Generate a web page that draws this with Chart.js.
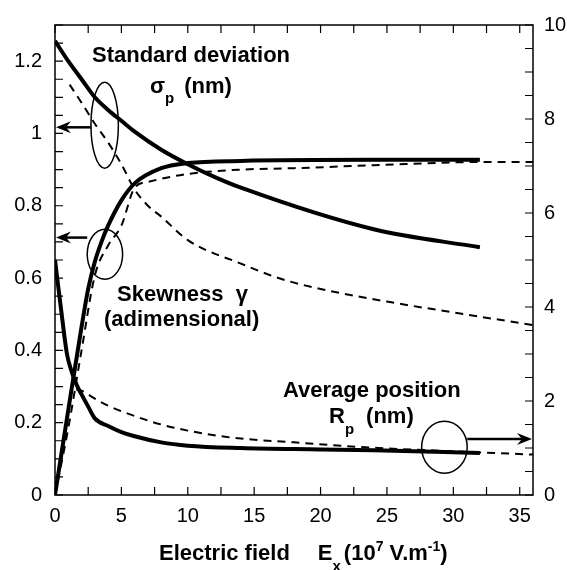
<!DOCTYPE html>
<html>
<head>
<meta charset="utf-8">
<script src="https://cdn.jsdelivr.net/npm/chart.js@4.4.1/dist/chart.umd.min.js"></script>
<style>
  html, body { margin: 0; padding: 0; background: #fff; }
</style>
</head>
<body>
<canvas id="chart" width="567" height="570"></canvas>
<script>
// Standard deviation sigma_p (nm) -> left axis
const sigmaSolidE = [0, 1, 2, 3, 4, 5, 6, 8, 10, 12, 14, 24, 32];
const sigmaSolid = [1.256, 1.2, 1.15, 1.1, 1.065, 1.035, 1.005, 0.955, 0.915, 0.88, 0.85, 0.735, 0.685];
const sigmaDashE = [1.1, 2, 3, 4, 5, 6, 7, 8, 10, 14, 17, 20, 25, 30, 36];
const sigmaDash = [1.135, 1.085, 1.027, 0.975, 0.915, 0.845, 0.8, 0.77, 0.705, 0.64, 0.598, 0.57, 0.535, 0.505, 0.47];

// Skewness gamma (adimensional) -> left axis
const skewSolidE = [0, 1, 2, 2.5, 3, 3.5, 4, 5, 6, 8, 10, 14, 24, 32];
const skewSolid = [0, 0.235, 0.465, 0.57, 0.645, 0.7, 0.745, 0.815, 0.862, 0.904, 0.918, 0.924, 0.927, 0.927];
const skewDashE = [0, 1, 2, 3, 4, 5, 6, 7, 10, 14, 18, 24, 32, 36];
const skewDash = [0, 0.185, 0.4, 0.607, 0.69, 0.745, 0.85, 0.866, 0.888, 0.9, 0.904, 0.912, 0.921, 0.921];

// Average position Rp (nm) -> right axis
const rpSolidE = [0, 0.5, 0.9, 1.25, 1.6, 2, 2.5, 3, 4, 5, 6, 8, 10, 14, 20, 24, 32];
const rpSolid = [5.0, 3.85, 3.0, 2.63, 2.36, 2.14, 1.88, 1.63, 1.47, 1.34, 1.25, 1.12, 1.05, 1.0, 0.97, 0.95, 0.895];
const rpDashE = [1.6, 2, 3, 4, 6, 8, 10, 12, 14, 18, 23, 30, 36];
const rpDash = [2.25, 2.22, 2.05, 1.9, 1.68, 1.5, 1.37, 1.27, 1.2, 1.12, 1.02, 0.93, 0.86];

// axis ranges
const xMax = 36, leftMax = 1.3, rightMax = 10;

const FONT = "'Liberation Sans', Arial, sans-serif";

function pts(xs, ys) {
  return xs.map((x, i) => ({ x: x, y: ys[i] }));
}

function series(xs, ys, axis, dashed) {
  return {
    data: pts(xs, ys),
    yAxisID: axis,
    borderColor: "#000",
    borderWidth: dashed ? 2 : 4,
    borderDash: dashed ? [8, 6] : [],
    pointRadius: 0,
    cubicInterpolationMode: "monotone",
    fill: false
  };
}

// draws text pieces one after the other (for sub/superscripts)
function drawRuns(ctx, runs, x, y) {
  runs.forEach((r) => {
    ctx.font = r.font;
    ctx.fillText(r.t, x, y + (r.dy || 0));
    x += ctx.measureText(r.t).width + (r.gap || 0);
  });
}

function arrow(ctx, x1, y, x2) {
  const dir = x2 > x1 ? -1 : 1;
  ctx.lineWidth = 2.5;
  ctx.beginPath();
  ctx.moveTo(x1, y);
  ctx.lineTo(x2 + dir * 8, y);
  ctx.stroke();
  ctx.beginPath();
  ctx.moveTo(x2, y);
  ctx.lineTo(x2 + dir * 15, y - 6);
  ctx.lineTo(x2 + dir * 10, y);
  ctx.lineTo(x2 + dir * 15, y + 6);
  ctx.closePath();
  ctx.fill();
}

const decor = {
  id: "decor",
  afterDraw(chart) {
    const ctx = chart.ctx;
    const a = chart.chartArea;
    const sx = chart.scales.x, sy = chart.scales.y, sy2 = chart.scales.y2;
    ctx.save();
    ctx.fillStyle = "#000";
    ctx.strokeStyle = "#000";
    ctx.setLineDash([]);

    // frame
    ctx.lineWidth = 1.5;
    ctx.strokeRect(a.left, a.top, a.right - a.left, a.bottom - a.top);

    // inward ticks
    ctx.lineWidth = 1.2;
    ctx.beginPath();
    for (let i = 0; i * 2.5 <= xMax; i++) {
      const px = sx.getPixelForValue(i * 2.5);
      ctx.moveTo(px, a.bottom); ctx.lineTo(px, a.bottom - 8);
      ctx.moveTo(px, a.top); ctx.lineTo(px, a.top + 8);
    }
    for (let i = 0; i * 0.05 <= leftMax + 1e-9; i++) {
      const py = sy.getPixelForValue(i * 0.05);
      ctx.moveTo(a.left, py); ctx.lineTo(a.left + 8, py);
    }
    for (let i = 0; i * 0.5 <= rightMax + 1e-9; i++) {
      const py = sy2.getPixelForValue(i * 0.5);
      ctx.moveTo(a.right, py); ctx.lineTo(a.right - 8, py);
    }
    ctx.stroke();

    // ellipses + arrows
    ctx.lineWidth = 1.5;
    const e1x = sx.getPixelForValue(3.74), e1y = sy.getPixelForValue(1.023);
    ctx.beginPath(); ctx.ellipse(e1x, e1y, 13.7, 43, 0, 0, Math.PI * 2); ctx.stroke();
    arrow(ctx, e1x - 13.7, sy.getPixelForValue(1.017), a.left + 1);

    const e2x = sx.getPixelForValue(3.76), e2y = sy.getPixelForValue(0.666);
    ctx.lineWidth = 1.5;
    ctx.beginPath(); ctx.ellipse(e2x, e2y, 17.7, 25, 0, 0, Math.PI * 2); ctx.stroke();
    arrow(ctx, e2x - 17.7, sy.getPixelForValue(0.712), a.left + 1);

    const e3x = sx.getPixelForValue(29.33), e3y = sy2.getPixelForValue(1.017);
    ctx.lineWidth = 1.5;
    ctx.beginPath(); ctx.ellipse(e3x, e3y, 22.8, 26, 0, 0, Math.PI * 2); ctx.stroke();
    arrow(ctx, e3x + 22.8, sy2.getPixelForValue(1.19), a.right - 1);

    // labels
    const B = "bold 22px " + FONT;
    const Bs = "bold 15px " + FONT;
    ctx.textBaseline = "alphabetic";
    ctx.textAlign = "left";
    drawRuns(ctx, [{ t: "Standard deviation", font: B }], 92, 62);
    drawRuns(ctx, [{ t: "\u03C3", font: B }, { t: "p", font: Bs, dy: 10, gap: 10 }, { t: "(nm)", font: B }], 150, 93);
    drawRuns(ctx, [{ t: "Skewness  \u03B3", font: B }], 117, 301);
    drawRuns(ctx, [{ t: "(adimensional)", font: B }], 104, 326);
    drawRuns(ctx, [{ t: "Average position", font: B }], 283, 397);
    drawRuns(ctx, [{ t: "R", font: B }, { t: "p", font: Bs, dy: 11, gap: 12 }, { t: "(nm)", font: B }], 329, 423);

    // x axis title
    drawRuns(ctx, [
      { t: "Electric field", font: B, gap: 28 },
      { t: "E", font: B },
      { t: "x", font: Bs, dy: 11, gap: 3 },
      { t: "(10", font: B },
      { t: "7", font: "bold 14px " + FONT, dy: -9 },
      { t: " V.m", font: B },
      { t: "-1", font: "bold 14px " + FONT, dy: -9 },
      { t: ")", font: B }
    ], 159, 560);

    ctx.restore();
  }
};

const tickFont = { family: FONT, size: 20 };

new Chart(document.getElementById("chart"), {
  type: "line",
  data: {
    datasets: [
      series(sigmaSolidE, sigmaSolid, "y", false),
      series(sigmaDashE, sigmaDash, "y", true),
      series(skewSolidE, skewSolid, "y", false),
      series(skewDashE, skewDash, "y", true),
      series(rpSolidE, rpSolid, "y2", false),
      series(rpDashE, rpDash, "y2", true)
    ]
  },
  options: {
    responsive: false,
    animation: false,
    layout: { padding: { top: 20, left: 0, right: 0, bottom: 0 } },
    plugins: { legend: { display: false }, tooltip: { enabled: false } },
    scales: {
      x: {
        type: "linear", position: "bottom", min: 0, max: xMax,
        grid: { display: false, drawTicks: false }, border: { display: false },
        ticks: { stepSize: 5, includeBounds: false, padding: 9, maxRotation: 0, font: tickFont, color: "#000" },
        afterFit: (s) => { s.height = 75; }
      },
      y: {
        type: "linear", position: "left", min: 0, max: leftMax,
        grid: { display: false, drawTicks: false }, border: { display: false },
        ticks: { stepSize: 0.2, includeBounds: false, padding: 13, font: tickFont, color: "#000",
          callback: (v) => String(+v.toFixed(2)) },
        afterFit: (s) => { s.width = 55; }
      },
      y2: {
        type: "linear", position: "right", min: 0, max: rightMax,
        grid: { display: false, drawTicks: false }, border: { display: false },
        ticks: { stepSize: 2, includeBounds: false, padding: 11, font: tickFont, color: "#000" },
        afterFit: (s) => { s.width = 34; }
      }
    }
  },
  plugins: [decor]
});
</script>
</body>
</html>
